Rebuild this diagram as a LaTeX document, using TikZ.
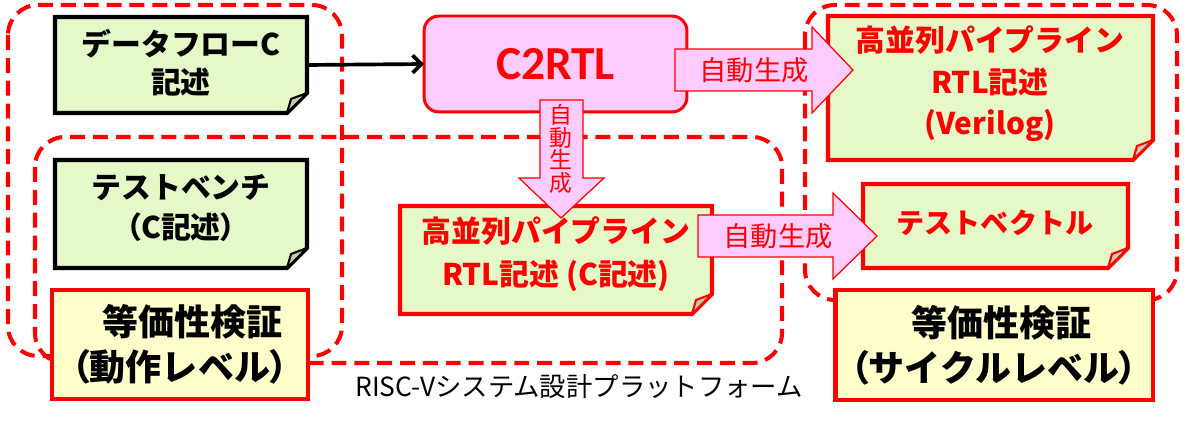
\documentclass[tikz,border=0pt]{standalone}
\usepackage{fontspec}
\setmainfont{Noto Sans CJK JP}
\newfontfamily\jpnarrow{Noto Sans CJK JP}[RawFeature=+palt]
\newfontfamily\calibri{Carlito}
\usetikzlibrary{arrows.meta}

\begin{document}
\begin{tikzpicture}[x=0.02cm, y=-0.02cm, every node/.style={inner sep=0,outer sep=0},
    group/.style={draw=myred, line width=2.3pt, dash pattern=on 8.5pt off 4.5pt, rounded corners=0.6cm},
    note/.style={fill=notegreen, line width=2.3pt, line join=miter},
    fold/.style={fill=foldgray, line width=1.2pt, line join=round},
    check/.style={draw=myred, fill=checkyellow, line width=2.8pt, align=center, font=\fontsize{20.5pt}{25.6pt}\selectfont\bfseries},
    blockarrow/.style={draw=myred, fill=toolpink, line width=0.7pt},
    gen/.style={text=myred, font=\fontsize{15.5pt}{15.5pt}\selectfont}]
        % Colors
        \definecolor{notegreen}{RGB}{228,248,200}
        \definecolor{checkyellow}{RGB}{255,255,204}
        \definecolor{toolpink}{RGB}{255,204,255}
        \definecolor{foldgray}{RGB}{196,204,180}
        \definecolor{myred}{RGB}{255,0,0}

        \useasboundingbox (0,0) rectangle (1187,422);

        % Dashed groups
        \draw[group] (8,5) rectangle (342,356);
        \draw[group] (35,137) rectangle (782,363);
        \draw[group] (805,5) rectangle (1177,300);

        % Note boxes
        \filldraw[note, draw=black] (55,17) -- (307,17) -- (307,93) -- (287,113) -- (55,113) -- cycle;
        \filldraw[fold, draw=black] (287,113) -- (291,99) -- (307,93) -- cycle;
        \node[align=center, minimum width=5.04cm, minimum height=1.92cm, font=\fontsize{17pt}{21.6pt}\selectfont\bfseries] (dataflow) at (181,63) {データフローC\\記述};

        \filldraw[note, draw=black] (55,160) -- (307,160) -- (307,248) -- (287,268) -- (55,268) -- cycle;
        \filldraw[fold, draw=black] (287,268) -- (291,254) -- (307,248) -- cycle;
        \node[align=center, minimum width=5.04cm, minimum height=2.16cm, font=\fontsize{17pt}{22.7pt}\selectfont\bfseries] (testbench) at (181,208) {テストベンチ\\{\jpnarrow （}C記述{\jpnarrow ）}};

        \filldraw[note, draw=myred] (400,206) -- (712,206) -- (712,294) -- (692,314) -- (400,314) -- cycle;
        \filldraw[fold, draw=myred] (692,314) -- (696,300) -- (712,294) -- cycle;
        \node[align=center, text=myred, minimum width=6.24cm, minimum height=2.16cm, font=\fontsize{17pt}{24.5pt}\selectfont\bfseries] (pipec) at (556,254) {高並列パイプライン\\RTL記述 (C記述)};

        \filldraw[note, draw=myred] (828,16) -- (1153,16) -- (1153,140) -- (1133,160) -- (828,160) -- cycle;
        \filldraw[fold, draw=myred] (1133,160) -- (1137,146) -- (1153,140) -- cycle;
        \node[align=center, text=myred, minimum width=6.5cm, minimum height=2.88cm, font=\fontsize{17pt}{23.6pt}\selectfont\bfseries] (rtlv) at (990,84) {高並列パイプライン\\RTL記述\\(Verilog)};

        \filldraw[note, draw=myred] (863,184) -- (1128,184) -- (1128,248) -- (1108,268) -- (863,268) -- cycle;
        \filldraw[fold, draw=myred] (1108,268) -- (1112,254) -- (1128,248) -- cycle;
        \node[text=myred, minimum width=5.3cm, minimum height=1.68cm, font=\fontsize{16pt}{16pt}\selectfont\bfseries] (tvec) at (995,223) {テストベクトル};

        % Equivalence checks
        \node[check, minimum width=5.12cm, minimum height=2.18cm] (eqvop) at (180,344.5) {\hspace*{0.5cm}等価性検証\\{\jpnarrow （}動作レベル{\jpnarrow ）}};
        \node[check, minimum width=6.36cm, minimum height=2.2cm] (eqvcy) at (994,345) {\hspace*{0.3cm}等価性検証\\{\jpnarrow （}サイクルレベル{\jpnarrow ）}};

        % Tool
        \node[draw=myred, fill=toolpink, line width=1.7pt, rounded corners=0.3cm, minimum width=5.26cm, minimum height=1.92cm, text=myred, font=\calibri\fontsize{27pt}{27pt}\selectfont\bfseries] (c2rtl) at (555.5,64) {C2RTL};
        \draw[line width=2.1pt, -{Straight Barb[length=5pt,width=10pt]}] (dataflow.east |- 0,65) -- (c2rtl.west);

        % Generation arrows
        \filldraw[blockarrow] (675,49) -- (812,49) -- (812,27) -- (853,70) -- (812,113) -- (812,91) -- (675,91) -- cycle;
        \node[gen] (genright) at (754,70) {自動生成};

        \filldraw[blockarrow] (540,100) -- (583,100) -- (583,178) -- (604,178) -- (561,218) -- (519,178) -- (540,178) -- cycle;
        \node[gen, align=center, font=\fontsize{13pt}{12.8pt}\selectfont] (gendown) at (561,149) {自\\動\\生\\成};

        \filldraw[blockarrow] (698,215) -- (833,215) -- (833,193) -- (877,236) -- (833,279) -- (833,257) -- (698,257) -- cycle;
        \node[gen] (genlow) at (778,236) {自動生成};

        \node[font=\fontsize{15pt}{15pt}\selectfont] (platform) at (579,387) {RISC-Vシステム設計プラットフォーム};
      \end{tikzpicture}
\end{document}
